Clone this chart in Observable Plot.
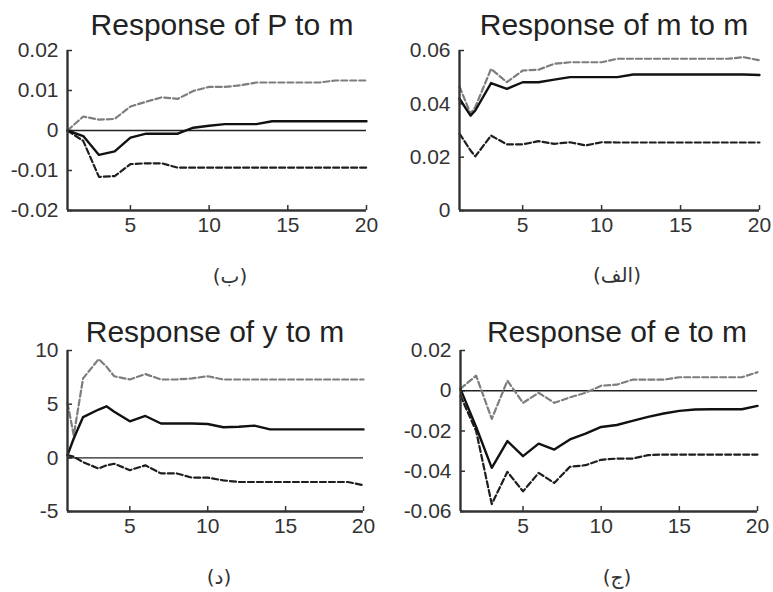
<!DOCTYPE html>
<html>
<head>
<meta charset="utf-8">
<script src="https://cdn.jsdelivr.net/npm/d3@7"></script>
<script src="https://cdn.jsdelivr.net/npm/@observablehq/plot@0.6"></script>
<style>
  html, body { margin: 0; padding: 0; background: #fff; }
  #root { position: relative; width: 773px; height: 592px; overflow: hidden; background: #fff; }
  .title { position: absolute; font-family: "Liberation Sans", Arial, sans-serif; font-size: 30px; line-height: 30px; color: #222; white-space: nowrap; transform: translateX(-50%); }
  .cap { position: absolute; font-family: "DejaVu Sans", sans-serif; font-size: 20px; line-height: 22px; color: #333; white-space: nowrap; transform: translate(-50%, -50%); }
  .plot { position: absolute; }
</style>
</head>
<body>
<div id="root"></div>
<script>
// ---------------- data ----------------
const xTicks = [5, 10, 15, 20];

// Response of P to m
const periodsP = [1,2,3,4,5,6,7,8,9,10,11,12,13,14,15,16,17,18,19,20];
const respP  = [0,-0.0014,-0.0061,-0.0052,-0.0018,-0.0008,-0.0008,-0.0008,0.0007,0.0012,0.0016,0.0016,0.0016,0.0023,0.0023,0.0023,0.0023,0.0023,0.0023,0.0023];
const upperP = [0,0.0035,0.0027,0.0029,0.006,0.0072,0.0083,0.0079,0.0099,0.0109,0.0109,0.0113,0.012,0.012,0.012,0.012,0.012,0.0125,0.0125,0.0125];
const lowerP = [0,-0.0026,-0.0116,-0.0114,-0.0084,-0.0082,-0.0082,-0.0093,-0.0093,-0.0093,-0.0093,-0.0093,-0.0093,-0.0093,-0.0093,-0.0093,-0.0093,-0.0093,-0.0093,-0.0093];
const yTicksP = [-0.02,-0.01,0,0.01,0.02];

// Response of m to m
const periodsM = [1,1.7,2,3,4,5,6,7,8,9,10,11,12,13,14,15,16,17,18,19,20];
const respM  = [0.0419,0.0356,0.0375,0.0478,0.0456,0.0481,0.0481,0.0491,0.05,0.05,0.05,0.05,0.051,0.051,0.051,0.051,0.051,0.051,0.051,0.051,0.0508];
const upperM = [0.0465,0.0363,0.0388,0.0531,0.0481,0.0525,0.0528,0.055,0.0556,0.0556,0.0556,0.0569,0.0569,0.0569,0.0569,0.0569,0.0569,0.0569,0.0569,0.0575,0.0563];
const lowerM = [0.0288,0.0225,0.0203,0.0281,0.0248,0.0248,0.026,0.025,0.0256,0.0244,0.0256,0.0255,0.0255,0.0255,0.0255,0.0255,0.0255,0.0255,0.0255,0.0255,0.0255];
const yTicksM = [0,0.02,0.04,0.06];

// Response of y to m
const periodsY = [1,1.4,2,3,3.5,4,5,6,7,8,9,10,11,12,13,14,15,16,17,18,19,20];
const respY  = [0.25,1.8,3.8,4.5,4.8,4.3,3.4,3.9,3.2,3.2,3.2,3.15,2.85,2.9,3.0,2.65,2.65,2.65,2.65,2.65,2.65,2.65];
const upperY = [5.1,2.1,7.4,9.2,8.5,7.6,7.3,7.8,7.3,7.3,7.4,7.6,7.3,7.3,7.3,7.3,7.3,7.3,7.3,7.3,7.3,7.3];
const lowerY = [0.25,0.1,-0.4,-1.0,-0.7,-0.55,-1.15,-0.7,-1.45,-1.45,-1.85,-1.85,-2.1,-2.25,-2.25,-2.25,-2.25,-2.25,-2.25,-2.25,-2.25,-2.55];
const yTicksY = [-5,0,5,10];

// Response of e to m
const periodsE = [1,2,3,4,5,6,7,8,9,10,11,12,13,14,15,16,17,18,19,20];
const respE  = [0.0008,-0.018,-0.0383,-0.025,-0.0325,-0.0263,-0.0292,-0.0242,-0.0213,-0.018,-0.017,-0.015,-0.013,-0.0113,-0.01,-0.0093,-0.0092,-0.0092,-0.0092,-0.0075];
const upperE = [0.001,0.0075,-0.014,0.005,-0.006,-0.001,-0.006,-0.0033,-0.001,0.0025,0.003,0.0055,0.0055,0.0055,0.0067,0.0067,0.0067,0.0067,0.0067,0.0092];
const lowerE = [-0.0025,-0.02,-0.0563,-0.0403,-0.05,-0.0408,-0.0458,-0.0378,-0.037,-0.0343,-0.0337,-0.0337,-0.032,-0.0317,-0.0317,-0.0317,-0.0317,-0.0317,-0.0317,-0.0317];
const yTicksE = [-0.06,-0.04,-0.02,0,0.02];

const titles = ["Response of P to m", "Response of m to m", "Response of y to m", "Response of e to m"];
const captions = ["(ب)", "(الف)", "(د)", "(ج)"];

// ---------------- layout ----------------
const panels = [
  {periods: periodsP, resp: respP, upper: upperP, lower: lowerP, yTicks: yTicksP, zero: true,
   left: 0, top: 40, width: 385, height: 200, mL: 67, mR: 19, mT: 10, mB: 30,
   titleX: 222, titleTop: 10, capX: 230, capY: 276},
  {periods: periodsM, resp: respM, upper: upperM, lower: lowerM, yTicks: yTicksM, zero: false,
   left: 390, top: 40, width: 383, height: 200, mL: 69, mR: 14, mT: 10, mB: 30,
   titleX: 614, titleTop: 10, capX: 617, capY: 275},
  {periods: periodsY, resp: respY, upper: upperY, lower: lowerY, yTicks: yTicksY, zero: true,
   left: 0, top: 340, width: 385, height: 200, mL: 67, mR: 22, mT: 10, mB: 29,
   titleX: 215, titleTop: 317, capX: 219, capY: 577},
  {periods: periodsE, resp: respE, upper: upperE, lower: lowerE, yTicks: yTicksE, zero: true,
   left: 390, top: 340, width: 383, height: 200, mL: 70, mR: 16, mT: 10, mB: 29,
   titleX: 617, titleTop: 317, capX: 617, capY: 577}
];

const root = document.getElementById("root");
const fmt = d => String(+d.toFixed(4));

panels.forEach((p, i) => {
  const rows = p.periods.map((t, j) => ({t, resp: p.resp[j], upper: p.upper[j], lower: p.lower[j]}));
  const yDomain = [p.yTicks[0], p.yTicks[p.yTicks.length - 1]];
  const innerW = p.width - p.mL - p.mR;
  const innerH = p.height - p.mT - p.mB;
  const axisColor = "#333";
  const marks = [
    Plot.tickX(xTicks, {x: d => d, insetTop: innerH - 5, stroke: axisColor, strokeWidth: 1.5}),
    Plot.tickY(p.yTicks, {y: d => d, insetRight: innerW - 5, stroke: axisColor, strokeWidth: 1.5})
  ];
  if (p.zero) marks.push(Plot.ruleY([0], {stroke: "#222", strokeWidth: 1.3}));
  marks.push(
    Plot.line(rows, {x: "t", y: "upper", stroke: "#7d7d7d", strokeWidth: 2.2, strokeDasharray: "6,3"}),
    Plot.line(rows, {x: "t", y: "lower", stroke: "#1e1e1e", strokeWidth: 2.2, strokeDasharray: "6,3"}),
    Plot.line(rows, {x: "t", y: "resp", stroke: "#111", strokeWidth: 2.4}),
    Plot.ruleX([1], {stroke: axisColor, strokeWidth: 2.4}),
    Plot.ruleY([yDomain[0]], {stroke: axisColor, strokeWidth: 2.4})
  );
  const chart = Plot.plot({
    width: p.width, height: p.height,
    marginLeft: p.mL, marginRight: p.mR, marginTop: p.mT, marginBottom: p.mB,
    style: {fontFamily: "'Liberation Sans', Arial, sans-serif", fontSize: "21px", color: "#333", background: "transparent", overflow: "visible"},
    x: {domain: [1, 20], ticks: xTicks, tickSize: 0, tickPadding: 7, tickFormat: d => String(d), label: null},
    y: {domain: yDomain, ticks: p.yTicks, tickSize: 0, tickPadding: 9, tickFormat: fmt, label: null},
    marks
  });
  chart.classList.add("plot");
  chart.style.left = p.left + "px";
  chart.style.top = p.top + "px";
  root.appendChild(chart);

  const t = document.createElement("div");
  t.className = "title";
  t.textContent = titles[i];
  t.style.left = p.titleX + "px";
  t.style.top = p.titleTop + "px";
  root.appendChild(t);

  const c = document.createElement("div");
  c.className = "cap";
  c.dir = "rtl";
  c.textContent = captions[i];
  c.style.left = p.capX + "px";
  c.style.top = p.capY + "px";
  root.appendChild(c);
});
</script>
</body>
</html>
